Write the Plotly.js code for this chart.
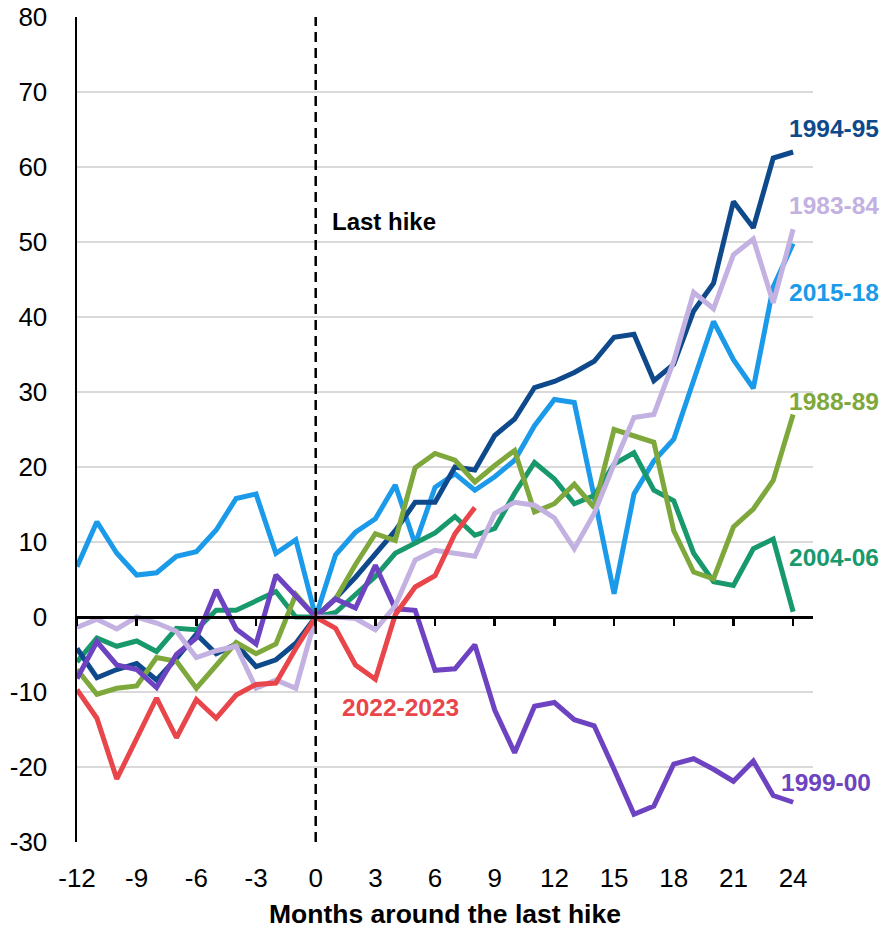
<!DOCTYPE html>
<html>
<head>
<meta charset="utf-8">
<script src="https://cdn.plot.ly/plotly-3.0.1.min.js"></script>
<style>html,body{margin:0;padding:0;background:#fff;}#chart{width:884px;height:929px;}</style>
</head>
<body>
<div id="chart"></div>
<script>
// Months around the last hike
const months = [-12,-11,-10,-9,-8,-7,-6,-5,-4,-3,-2,-1,0,1,2,3,4,5,6,7,8,9,10,11,12,13,14,15,16,17,18,19,20,21,22,23,24];
const monthsShort = [-12,-11,-10,-9,-8,-7,-6,-5,-4,-3,-2,-1,0,1,2,3,4,5,6,7,8];
const tickMonths = [-12,-9,-6,-3,0,3,6,9,12,15,18,21,24];
const tickMonthLabels = ['-12','-9','-6','-3','0','3','6','9','12','15','18','21','24'];
const tickValues = [-30,-20,-10,0,10,20,30,40,50,60,70,80];
const tickValueLabels = ['-30','-20','-10','0','10','20','30','40','50','60','70','80'];

const s1994 = [-4.2,-8.1,-7.0,-6.2,-8.4,-5.5,-2.3,-4.9,-3.6,-6.6,-5.7,-3.5, 0,
  2.5,5.3,8.5,11.5,15.3,15.3,20.0,19.6,24.2,26.4,30.6,31.4,
  32.6,34.1,37.3,37.7,31.5,33.7,40.8,44.5,55.4,51.9,61.2,62.0];
const s2015 = [6.7,12.7,8.5,5.6,5.9,8.1,8.7,11.6,15.8,16.4,8.5,10.3, 0,
  8.3,11.3,13.1,17.6,9.7,17.3,19.1,16.9,18.7,20.9,25.5,29.0,
  28.6,16.0,3.1,16.4,20.8,23.7,31.5,39.4,34.3,30.5,44.0,49.8];
const s1983 = [-1.4,-0.3,-1.6,0.0,-0.8,-1.9,-5.4,-4.5,-3.9,-9.5,-8.4,-9.5, 0,
  0.0,-0.2,-1.7,1.5,7.6,8.9,8.5,8.1,13.8,15.3,14.9,13.2,
  9.1,13.8,20.4,26.6,27.0,34.1,43.3,41.1,48.3,50.4,41.9,51.7];
const s1988 = [-7.0,-10.3,-9.5,-9.2,-5.4,-5.9,-9.5,-6.4,-3.4,-4.9,-3.6,3.0, 0,
  2.4,7.0,11.1,10.2,19.9,21.8,20.9,18.0,20.2,22.2,14.0,15.1,
  17.7,14.6,25.0,24.2,23.3,11.5,6.0,5.1,12.0,14.4,18.2,27.0];
const s2004 = [-6.0,-2.8,-3.9,-3.2,-4.6,-1.5,-1.7,0.9,0.9,2.1,3.4,0.0, 0,
  0.6,2.9,5.4,8.5,9.8,11.2,13.4,10.9,11.8,16.5,20.6,18.4,
  15.1,16.2,20.4,21.9,16.9,15.5,8.5,4.7,4.2,9.1,10.4,0.7];
const s1999 = [-8.2,-3.3,-6.4,-7.0,-9.4,-5.0,-2.8,3.6,-1.6,-3.6,5.6,2.7, 0,
  2.4,1.2,6.9,1.1,0.9,-7.1,-6.9,-3.7,-12.4,-18.1,-11.9,-11.4,
  -13.7,-14.5,-20.3,-26.3,-25.2,-19.6,-18.9,-20.3,-21.9,-19.2,-23.8,-24.7];
const s2022 = [-9.7,-13.5,-21.6,-16.2,-10.8,-16.1,-11.0,-13.5,-10.4,-9.0,-8.8,-4.2, 0,
  -1.5,-6.4,-8.3,0.3,4.0,5.5,11.1,14.6];

const names = ['2015-18','2004-06','1994-95','1988-89','1999-00','1983-84','2022-2023'];
const colors = {
  '1994-95':'#0e4a8b','2015-18':'#1a9ae8','1983-84':'#c2b1e1','1988-89':'#7fa83c',
  '2004-06':'#18996c','1999-00':'#6d43c1','2022-2023':'#e8464b'
};
const seriesY = {'1994-95':s1994,'2015-18':s2015,'1983-84':s1983,'1988-89':s1988,'2004-06':s2004,'1999-00':s1999,'2022-2023':s2022};

const FONT = 'Liberation Sans, Arial, Helvetica, sans-serif';

const traces = names.map(n => ({
  type:'scatter', mode:'lines', name:n,
  x: n === '2022-2023' ? monthsShort : months,
  y: seriesY[n],
  xaxis: n === '2022-2023' ? 'x2' : 'x',
  line:{color:colors[n], width:5},
  hoverinfo:'skip'
}));

const labelPos = [
  {t:'1994-95', x:23.7, y:65.1},
  {t:'1983-84', x:23.7, y:54.9},
  {t:'2015-18', x:23.7, y:43.3},
  {t:'1988-89', x:23.7, y:28.7},
  {t:'2004-06', x:23.7, y:7.9},
  {t:'1999-00', x:23.3, y:-22.1},
  {t:'2022-2023', x:1.2, y:-12.1}
];
const annotations = labelPos.map(l => ({
  x:l.x, y:l.y, xref:'x', yref:'y', text:'<b>'+l.t+'</b>', showarrow:false,
  xanchor:'left', yanchor:'middle', font:{family:FONT, size:24.5, color:colors[l.t]}
}));
annotations.push({x:0.7, y:52.8, xref:'x', yref:'y', text:'<b>Last hike</b>', showarrow:false,
  xanchor:'left', yanchor:'middle', font:{family:FONT, size:24, color:'#000'}});

const layout = {
  width:884, height:929,
  margin:{l:77, r:71, t:17, b:87},
  paper_bgcolor:'#fff', plot_bgcolor:'#fff',
  showlegend:false,
  font:{family:FONT, color:'#000'},
  xaxis:{
    range:[-12,25], tickvals:tickMonths, ticktext:tickMonthLabels,
    showgrid:false, zeroline:false, showline:false, ticks:'',
    tickfont:{family:FONT, size:26, color:'#000'}, ticklabelstandoff:18,
    title:{text:'<b>Months around the last hike</b>', font:{family:FONT, size:26.5, color:'#000'}, standoff:14}
  },
  xaxis2:{
    overlaying:'x', anchor:'free', position:30/110, side:'bottom',
    range:[-12,25], tickvals:tickMonths, showticklabels:false,
    showgrid:false, zeroline:false, showline:true, linecolor:'#000', linewidth:2.5,
    ticks:'outside', ticklen:7, tickwidth:2.5, tickcolor:'#000'
  },
  yaxis:{
    range:[-30,80], tickvals:tickValues, ticktext:tickValueLabels,
    showgrid:true, gridcolor:'#d9d9d9', gridwidth:1.5, zeroline:false,
    showline:true, linecolor:'#000', linewidth:2.5, ticks:'',
    tickfont:{family:FONT, size:26, color:'#000'}, ticklabelstandoff:22
  },
  shapes:[{type:'line', xref:'x', yref:'paper', x0:0, x1:0, y0:0, y1:1,
    line:{color:'#000', width:2.5, dash:'10px,6px'}}],
  annotations:annotations
};

Plotly.newPlot('chart', traces, layout, {staticPlot:true, displayModeBar:false});
</script>
</body>
</html>
